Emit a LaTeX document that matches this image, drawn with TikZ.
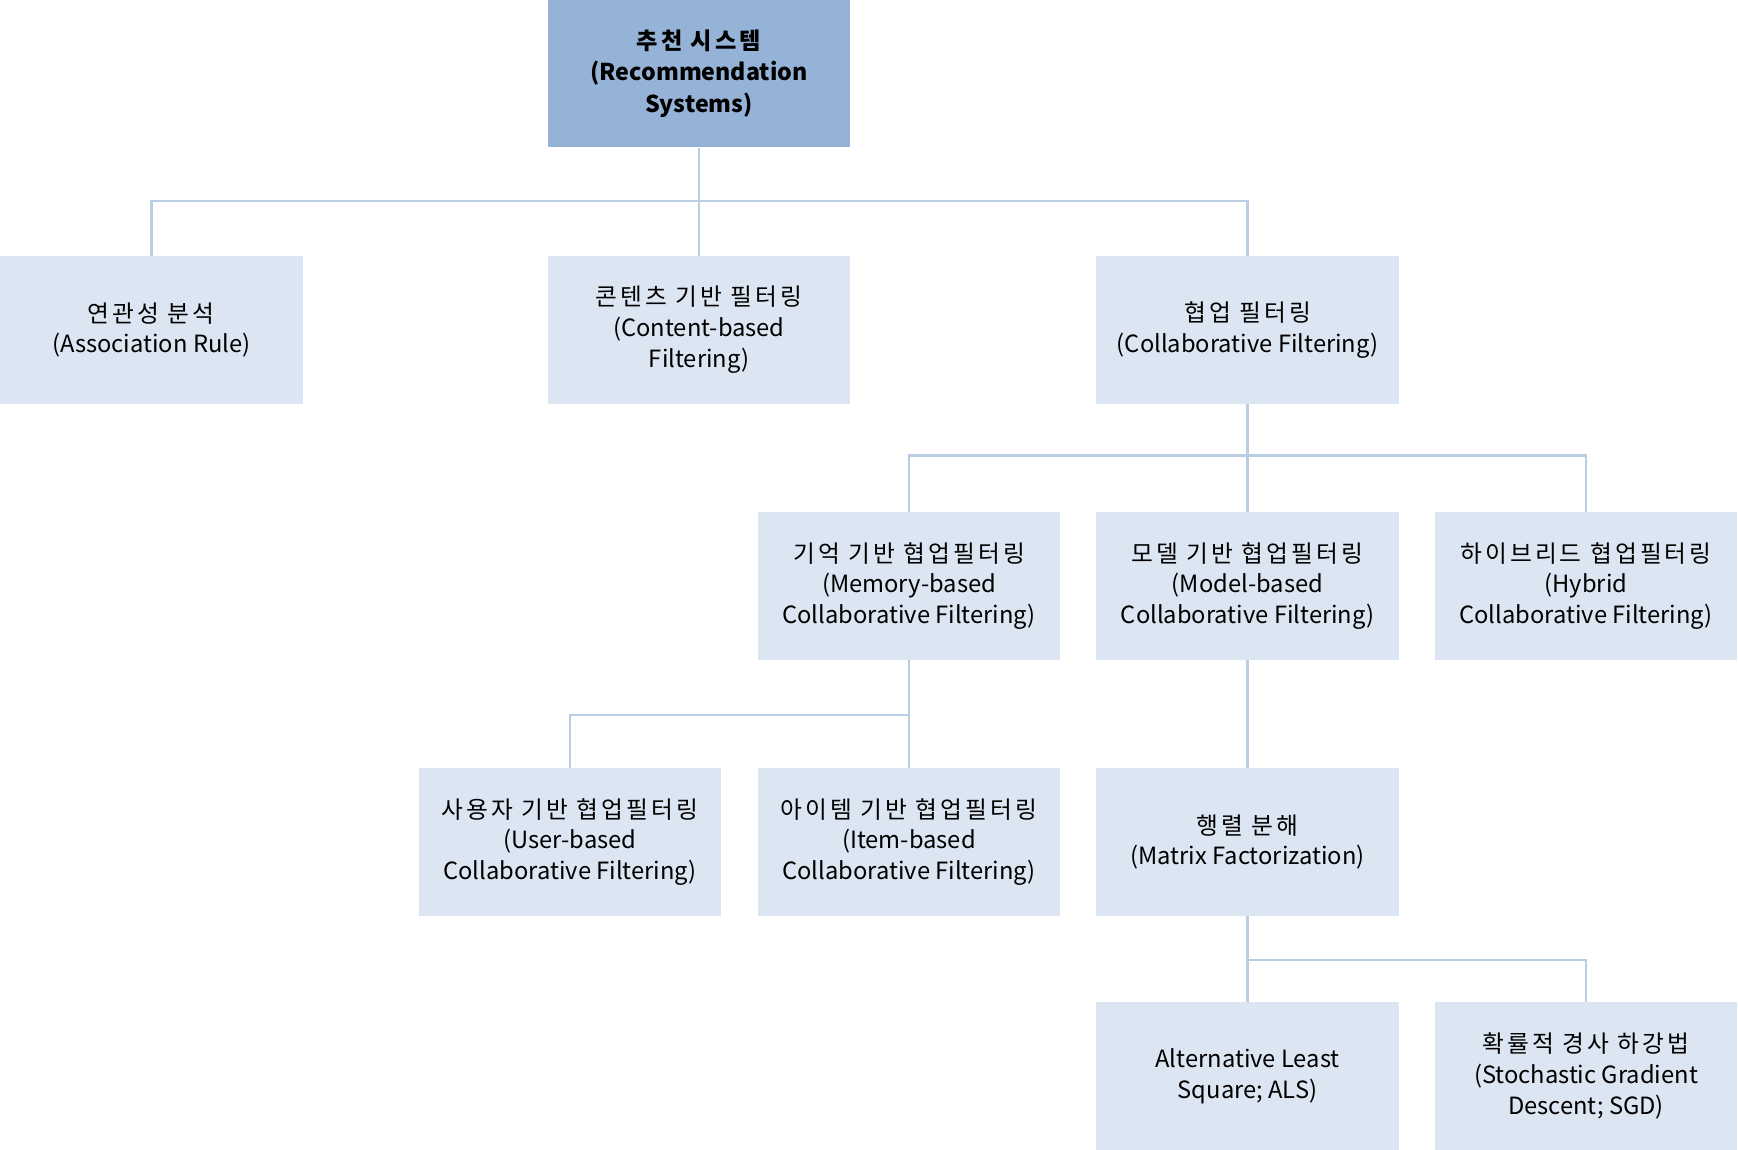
\documentclass[tikz,border=0pt]{standalone}
\usepackage{fontspec}
\setmainfont{Noto Sans CJK KR}
\newfontfamily\kor[LetterSpace=13]{Noto Sans CJK KR}
\usetikzlibrary{positioning, calc}

\definecolor{rootfill}{HTML}{95B3D7}
\definecolor{boxfill}{HTML}{DCE6F2}
\definecolor{linkcol}{HTML}{B9CDE5}

\begin{document}
\begin{tikzpicture}[font=\fontsize{6.75}{8.8}\selectfont]
\tikzset{cat/.style={fill=boxfill, rectangle, minimum width=3.026cm, minimum height=1.475cm, inner sep=0, align=center}, root/.style={cat, fill=rootfill, font=\fontsize{6.6}{8.9}\selectfont\bfseries}, link/.style={draw=linkcol, line width=0.8pt}}
\useasboundingbox (0,0) rectangle (17.38,-11.5);
% tree levels
\node[root] (R) at (6.99,-0.7375) {{\kor 추천 시스템}\\(Recommendation\\Systems)};
\node[cat] (AR) at (1.513,-3.30) {{\kor 연관성 분석}\\(Association Rule)};
\node[cat] (CB) at (6.99,-3.30) {{\kor 콘텐츠 기반 필터링}\\(Content-based\\Filtering)};
\node[cat] (CF) at (12.475,-3.30) {{\kor 협업 필터링}\\(Collaborative Filtering)};
\node[cat] (MB) at (9.09,-5.86) {{\kor 기억 기반 협업필터링}\\(Memory-based\\Collaborative Filtering)};
\node[cat] (ML) at (12.475,-5.86) {{\kor 모델 기반 협업필터링}\\(Model-based\\Collaborative Filtering)};
\node[cat] (HY) at (15.86,-5.86) {{\kor 하이브리드 협업필터링}\\(Hybrid\\Collaborative Filtering)};
\node[cat] (UB) at (5.70,-8.42) {{\kor 사용자 기반 협업필터링}\\(User-based\\Collaborative Filtering)};
\node[cat] (IB) at (9.09,-8.42) {{\kor 아이템 기반 협업필터링}\\(Item-based\\Collaborative Filtering)};
\node[cat] (MF) at (12.475,-8.42) {{\kor 행렬 분해}\\(Matrix Factorization)};
\node[cat] (ALS) at (12.475,-10.76) {Alternative Least\\Square; ALS)};
\node[cat] (SGD) at (15.86,-10.76) {{\kor 확률적 경사 하강법}\\(Stochastic Gradient\\Descent; SGD)};
% bus lines
\coordinate (b1) at (0,-2.01); \coordinate (b2) at (0,-4.556);
\coordinate (b3) at (0,-7.15); \coordinate (b4) at (0,-9.60);
\draw[link] (R.south) -- (CB.north);
\draw[link] (R.south |- b1) -| (AR.north); \draw[link] (R.south |- b1) -| (CF.north);
\draw[link] (CF.south) -- (ML.north);
\draw[link] (CF.south |- b2) -| (MB.north); \draw[link] (CF.south |- b2) -| (HY.north);
\draw[link] (MB.south) -- (IB.north); \draw[link] (MB.south |- b3) -| (UB.north);
\draw[link] (ML.south) -- (MF.north);
\draw[link] (MF.south) -- (ALS.north); \draw[link] (MF.south |- b4) -| (SGD.north);
\end{tikzpicture}
\end{document}
